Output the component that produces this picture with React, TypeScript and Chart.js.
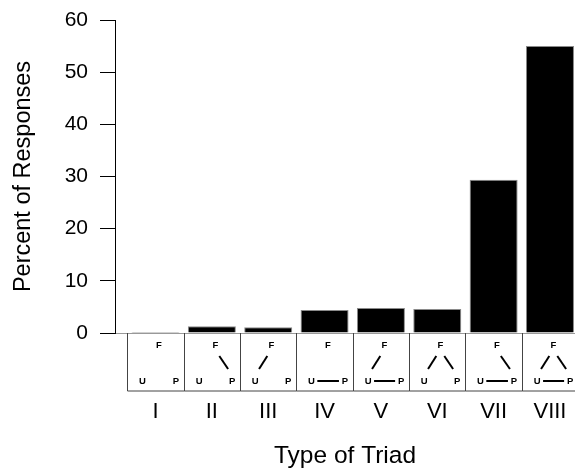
import React, { useEffect, useRef } from "react";
import { Chart, registerables } from "chart.js";

Chart.register(...registerables);

const categories = ["I", "II", "III", "IV", "V", "VI", "VII", "VIII"];
const percentValues = [0.2, 1.3, 1.1, 4.4, 4.8, 4.6, 29.4, 55.0];
const yTicks = [0, 10, 20, 30, 40, 50, 60];
// edges of each triad diagram: pairs of nodes F, U, P
const triadEdges: string[][] = [
  [],
  ["FP"],
  ["FU"],
  ["UP"],
  ["FU", "UP"],
  ["FU", "FP"],
  ["FP", "UP"],
  ["FU", "FP", "UP"],
];

const FONT = "'Liberation Sans', Arial, Helvetica, sans-serif";

const triadPlugin = {
  id: "triadBoxes",
  afterDraw(chart: any) {
    const x = chart.scales.x;
    const area = chart.chartArea;
    const ctx = chart.ctx;
    const top = area.bottom;
    const h = 58;
    ctx.save();
    categories.forEach((_, i) => {
      const l = Math.round(x.getPixelForValue(i - 0.5)) + 0.5;
      const r = Math.round(x.getPixelForValue(i + 0.5)) + 0.5;
      const w = r - l;
      ctx.strokeStyle = "#444";
      ctx.lineWidth = 1;
      ctx.beginPath();
      ctx.moveTo(l, top);
      ctx.lineTo(l, top + h);
      ctx.lineTo(r, top + h);
      ctx.lineTo(r, top);
      ctx.stroke();
      // letters
      ctx.fillStyle = "#000";
      ctx.font = `bold 9.5px ${FONT}`;
      ctx.textAlign = "center";
      ctx.textBaseline = "middle";
      const fx = l + w * 0.55, fy = top + 12;
      const ux = l + w * 0.26, uy = top + 48;
      const px = l + w * 0.85, py = top + 48;
      ctx.fillText("F", fx, fy);
      ctx.fillText("U", ux, uy);
      ctx.fillText("P", px, py);
      ctx.lineWidth = 2;
      ctx.strokeStyle = "#000";
      triadEdges[i].forEach((e) => {
        ctx.beginPath();
        if (e === "FP") {
          ctx.moveTo(fx + 4, fy + 11);
          ctx.lineTo(px - 4, py - 12);
        } else if (e === "FU") {
          ctx.moveTo(fx - 4, fy + 11);
          ctx.lineTo(ux + 4, uy - 12);
        } else {
          ctx.moveTo(ux + 6, uy);
          ctx.lineTo(px - 6, py);
        }
        ctx.stroke();
      });
    });
    ctx.restore();
  },
};

export default function App() {
  const ref = useRef<HTMLCanvasElement>(null);
  useEffect(() => {
    const chart = new Chart(ref.current!, {
      type: "bar",
      data: {
        datasets: [
          {
            data: percentValues.map((v, i) => ({ x: i, y: v })),
            backgroundColor: "#000",
            borderColor: "#8a8a8a",
            borderWidth: 1,
            barPercentage: 0.852,
            categoryPercentage: 1,
          },
        ],
      },
      options: {
        animation: false,
        responsive: false,
        maintainAspectRatio: false,
        layout: { padding: { top: 20, left: 0, right: 0, bottom: 0 } },
        plugins: { legend: { display: false }, tooltip: { enabled: false } },
        scales: {
          x: {
            type: "linear",
            offset: false,
            min: -0.719,
            max: 7.444,
            afterBuildTicks: (s: any) => {
              s.ticks = categories.map((_, i) => ({ value: i }));
            },
            afterFit: (s: any) => {
              s.height = 138;
            },
            grid: {
              display: true,
              offset: false,
              drawOnChartArea: false,
              drawTicks: true,
              tickLength: 66,
              color: "rgba(0,0,0,0)",
            },
            border: { display: true, color: "#999", width: 1 },
            ticks: {
              padding: 0,
              color: "#000",
              font: { family: FONT, size: 22 },
              maxRotation: 0,
              autoSkip: false,
              callback: (v: any) => categories[v] ?? "",
            },
            title: {
              display: true,
              text: "Type of Triad",
              color: "#000",
              font: { family: FONT, size: 24.5 },
              padding: { top: 0, bottom: 0 },
            },
          },
          y: {
            min: 0,
            max: 60,
            afterBuildTicks: (s: any) => {
              s.ticks = yTicks.map((v) => ({ value: v }));
            },
            afterFit: (s: any) => {
              s.width = 115;
              s.paddingTop = 0;
              s.paddingBottom = 0;
            },
            grid: {
              display: true,
              drawOnChartArea: false,
              drawTicks: true,
              tickLength: 15,
              color: "#000",
            },
            border: { display: true, color: "#000", width: 1 },
            ticks: {
              padding: 12,
              color: "#000",
              font: { family: FONT, size: 21 },
            },
            title: {
              display: true,
              text: "Percent of Responses",
              color: "#000",
              font: { family: FONT, size: 23.5 },
              padding: { top: 9, bottom: 0 },
            },
          },
        },
      },
      plugins: [triadPlugin],
    });
    return () => chart.destroy();
  }, []);
  return (
    <div style={{ position: "fixed", left: 0, top: 0, width: 575, height: 471 }}>
      <canvas ref={ref} width={575} height={471} style={{ display: "block" }} />
    </div>
  );
}
